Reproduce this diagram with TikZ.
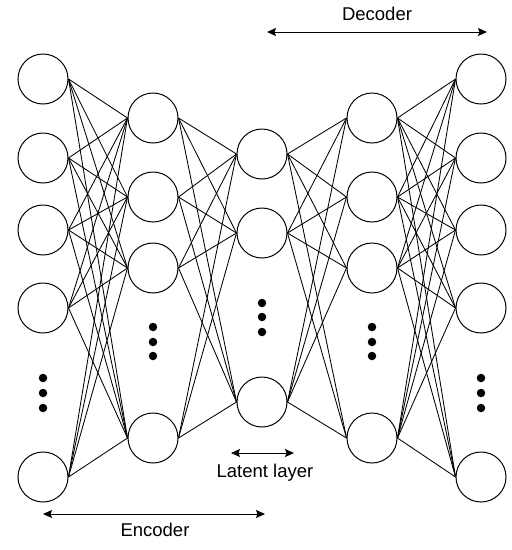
\documentclass[tikz,border=0pt]{standalone}
\usepackage{fontspec}
\setmainfont{Liberation Sans}
\usetikzlibrary{positioning,arrows.meta}

\begin{document}
\begin{tikzpicture}[x=1pt,y=-1pt,>={Stealth[length=9pt,width=8pt,inset=1.5pt]},
    neuron/.style={draw,circle,minimum size=50pt,inner sep=0pt,line width=1pt},
    dot/.style={circle,fill,inner sep=0pt,minimum size=8.5pt},
    lbl/.style={font=\fontsize{18.5}{20}\selectfont}]
    \useasboundingbox (0,0) rectangle (512,550);
    % layers
    \foreach \n/\y in {1/79,2/158,3/230,4/308,5/477} {\node[neuron] (in\n) at (43,\y) {};}
    \foreach \n/\y in {1/118,2/197,3/268,4/438} {\node[neuron] (h\n) at (153,\y) {};}
    \foreach \n/\y in {1/154,2/233,3/402} {\node[neuron] (z\n) at (262,\y) {};}
    \foreach \n/\y in {1/118,2/197,3/268,4/438} {\node[neuron] (g\n) at (372,\y) {};}
    \foreach \n/\y in {1/79,2/158,3/230,4/308,5/477} {\node[neuron] (out\n) at (481,\y) {};}
    % dots
    \foreach \y in {378,393,408} {\node[dot] at (43,\y) {}; \node[dot] at (481,\y) {};}
    \foreach \y in {327,342,356} {\node[dot] at (153,\y) {}; \node[dot] at (372,\y) {};}
    \foreach \y in {303,317,332} {\node[dot] at (262,\y) {};}
    % weights
    \foreach \i in {1,...,5} {\foreach \j in {1,...,4} {\draw[line width=0.85pt] (in\i.east) -- (h\j.west);}}
    \foreach \i in {1,...,4} {\foreach \j in {1,...,3} {\draw[line width=0.85pt] (h\i.east) -- (z\j.west);}}
    \foreach \i in {1,...,3} {\foreach \j in {1,...,4} {\draw[line width=0.85pt] (z\i.east) -- (g\j.west);}}
    \foreach \i in {1,...,4} {\foreach \j in {1,...,5} {\draw[line width=0.85pt] (g\i.east) -- (out\j.west);}}
    % labels
    \coordinate (decL) at (267,32);
    \coordinate (decR) at (487,32);
    \coordinate (encL) at (43,514);
    \coordinate (encR) at (265,514);
    \coordinate (latL) at (231,453);
    \coordinate (latR) at (294,453);
    \draw[<->,line width=1pt] (decL) -- (decR);
    \draw[<->,line width=1pt] (encL) -- (encR);
    \draw[<->,line width=1pt] (latL) -- (latR);
    \node[lbl] (dec) at (377,14) {Decoder};
    \node[lbl] (enc) at (155,530) {Encoder};
    \node[lbl] (lat) at (265,473) {Latent layer};
\end{tikzpicture}
\end{document}
